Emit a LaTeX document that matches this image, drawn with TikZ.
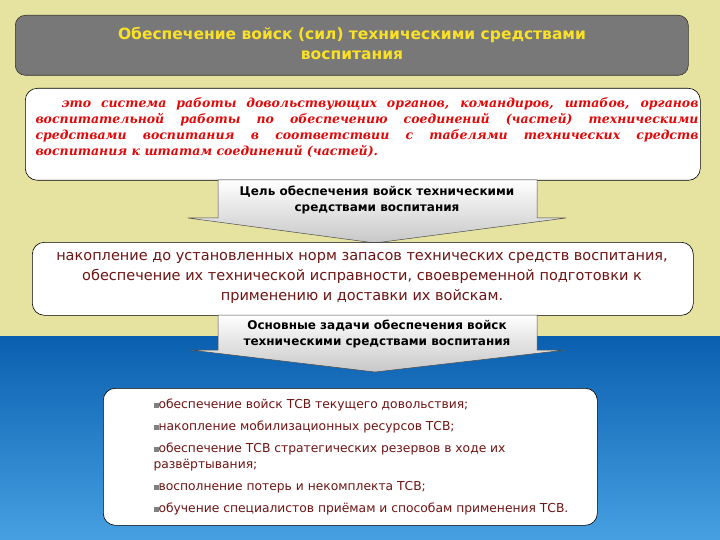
\documentclass[tikz,border=0pt]{standalone}
\usepackage{fontspec}
\setmainfont{DejaVu Sans}
\newfontfamily\redfont{DejaVu Serif}
\definecolor{bgy}{RGB}{230,226,160}
\definecolor{blt}{RGB}{10,95,175}
\definecolor{blb}{RGB}{70,160,225}
\definecolor{ttl}{RGB}{120,120,120}
\definecolor{ylw}{RGB}{250,225,40}
\definecolor{dred}{RGB}{110,20,20}
\definecolor{rr}{RGB}{225,10,10}
\begin{document}
\begin{tikzpicture}[x=1pt,y=-1pt,
  wbox/.style={draw=black,fill=white,rounded corners=12pt,line width=0.6pt},
  arr/.style={draw=black!70,line width=0.5pt,top color=white,bottom color=black!22},
  atext/.style={font=\bfseries\fontsize{12}{16}\selectfont,align=center,text=black}]
\useasboundingbox (0,0) rectangle (720,540);
\fill[bgy] (0,0) rectangle (720,336);
\shade[top color=blt,bottom color=blb] (0,336) rectangle (720,540);
% title
\node[draw=black!80,fill=ttl,rounded corners=10pt,minimum width=673pt,minimum height=60pt,anchor=north west,line width=0.6pt] (title) at (15,15) {};
\node[font=\bfseries\fontsize{15.5}{20}\selectfont,text=ylw,align=center,anchor=north] (tt) at (352,24) {Обеспечение войск (сил) техническими средствами\\воспитания};
% box 1
\node[wbox,minimum width=675pt,minimum height=92pt,anchor=north west] (b1) at (25,88) {};
\node[anchor=north west,text width=663pt,align=justify,text=rr,font=\redfont\bfseries\itshape\fontsize{12.5}{16}\selectfont] (t1) at (32,94) {\hspace*{26pt}это система работы довольствующих органов, командиров, штабов, органов воспитательной работы по обеспечению соединений (частей) техническими средствами воспитания в соответствии с табелями технических средств воспитания к штатам соединений (частей).};
% arrow 1
\path[arr] (218,180) -- (537,180) -- (537,218) -- (566,218) -- (375,243) -- (188,218) -- (218,218) -- cycle;
\node[atext] (a1) at (377,200) {Цель обеспечения войск техническими\\средствами воспитания};
% box 2
\node[wbox,minimum width=661pt,minimum height=73pt,anchor=north west] (b2) at (32,242) {};
\node[align=center,text=dred,font=\fontsize{14.5}{20}\selectfont] (t2) at (362,278) {накопление до установленных норм запасов технических средств воспитания,\\обеспечение их технической исправности, своевременной подготовки к\\применению и доставки их войскам.};
% arrow 2
\path[arr] (218,315) -- (537,315) -- (537,350) -- (566,350) -- (375,372) -- (190,350) -- (218,350) -- cycle;
\node[atext] (a2) at (377,334) {Основные задачи обеспечения войск\\техническими средствами воспитания};
% box 3
\node[wbox,minimum width=494pt,minimum height=137pt,anchor=north west] (b3) at (103,388) {};
\node[anchor=north west,text=dred,font=\fontsize{12.3}{16}\selectfont,align=left] (t3) at (150,395) {%
\textcolor{gray}{\rule{5pt}{5pt}}обеспечение войск ТСВ текущего довольствия;\\[6pt]
\textcolor{gray}{\rule{5pt}{5pt}}накопление мобилизационных ресурсов ТСВ;\\[6pt]
\textcolor{gray}{\rule{5pt}{5pt}}обеспечение ТСВ стратегических резервов в ходе их\\
развёртывания;\\[6pt]
\textcolor{gray}{\rule{5pt}{5pt}}восполнение потерь и некомплекта ТСВ;\\[6pt]
\textcolor{gray}{\rule{5pt}{5pt}}обучение специалистов приёмам и способам применения ТСВ.};
\end{tikzpicture}
\end{document}
